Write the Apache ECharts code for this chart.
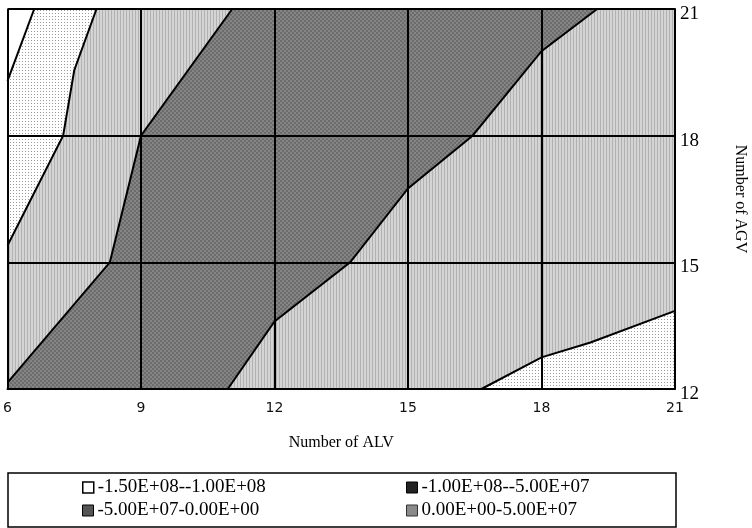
<!DOCTYPE html>
<html>
<head>
<meta charset="utf-8">
<script src="https://cdn.jsdelivr.net/npm/echarts@6/dist/echarts.min.js"></script>
<style>
  html, body { margin: 0; padding: 0; background: #fff; overflow: hidden; }
  #main { width: 752px; height: 528px; }
</style>
</head>
<body>
<div id="main"></div>
<script>
// axis ranges / ticks
var xMin = 6, xMax = 21, xStep = 3;
var yMin = 12, yMax = 21, yStep = 3;

// legend classes
var classNames = ['-1.50E+08--1.00E+08', '-1.00E+08--5.00E+07', '-5.00E+07-0.00E+00', '0.00E+00-5.00E+07'];

// contour lines, [ALV, AGV]
var lineA = [[6.6, 21], [6, 19.3]];
var lineB = [[8, 21], [7.5, 19.55], [7.25, 18], [6, 15.4]];
var lineC = [[11.05, 21], [9, 18], [8.3, 15], [6, 12.15]];
var lineD = [[19.25, 21], [18, 20], [16.45, 18], [15, 16.75], [13.7, 15], [12, 13.6], [10.95, 12]];
var lineE = [[16.65, 12], [18, 12.75], [19.1, 13.1], [21, 13.85]];

// filled areas built from the lines
var polyBack = [[xMin, yMin], [xMax, yMin], [xMax, yMax], [xMin, yMax]];
var polyDotTL = [[xMin, yMax]].concat(lineB);
var polyWhite = [[xMin, yMax]].concat(lineA);
var polyDark = lineC.concat([[xMin, yMin]], lineD.slice().reverse());
var polyDotBR = lineE.concat([[xMax, yMin]]);

/**
 * 生成填充纹理
 */
function makePattern(w, h, draw) {
	var c = document.createElement('canvas');
	c.width = w;
	c.height = h;
	draw(c.getContext('2d'));
	return { image: c, repeat: 'repeat' };
}

var patLight = makePattern(3, 1, function(ctx) {
	ctx.fillStyle = '#d4d4d4';
	ctx.fillRect(0, 0, 3, 1);
	ctx.fillStyle = '#b2b2b2';
	ctx.fillRect(0, 0, 1, 1);
});
var patDark = makePattern(4, 4, function(ctx) {
	ctx.fillStyle = '#858585';
	ctx.fillRect(0, 0, 4, 4);
	ctx.fillStyle = '#6c6c6c';
	ctx.fillRect(0, 0, 2, 2);
	ctx.fillRect(2, 2, 2, 2);
});
var patDot = makePattern(3, 3, function(ctx) {
	ctx.fillStyle = '#ffffff';
	ctx.fillRect(0, 0, 3, 3);
	ctx.fillStyle = '#9a9a9a';
	ctx.fillRect(1, 1, 1, 1);
});

function areaSeries(name, pts, fill, z) {
	return {
		type: 'custom',
		name: name,
		coordinateSystem: 'cartesian2d',
		silent: true,
		z: z,
		data: [pts[0]],
		renderItem: function(params, api) {
			return {
				type: 'polygon',
				shape: { points: pts.map(function(p) { return api.coord(p); }) },
				style: { fill: fill, stroke: null }
			};
		}
	};
}

function lineSeries(pts, z) {
	return {
		type: 'custom',
		coordinateSystem: 'cartesian2d',
		silent: true,
		z: z,
		data: [pts[0]],
		renderItem: function(params, api) {
			return {
				type: 'polyline',
				shape: { points: pts.map(function(p) { return api.coord(p); }) },
				style: { fill: null, stroke: '#000', lineWidth: 2 }
			};
		}
	};
}

var serifFont = '"Liberation Serif", "Times New Roman", serif';
var legendIcons = [
	{ color: '#ffffff', borderColor: '#000', borderWidth: 1.5 },
	{ color: '#222222', borderColor: '#000', borderWidth: 1 },
	{ color: '#555555', borderColor: '#000', borderWidth: 1 },
	{ color: '#8a8a8a', borderColor: '#333', borderWidth: 1 }
];
var legendPos = [[77, 473], [401, 473], [77, 496], [401, 496]];
var legends = classNames.map(function(n, i) {
	return {
		left: legendPos[i][0],
		top: legendPos[i][1],
		itemWidth: 11,
		itemHeight: 11,
		itemGap: 4,
		selectedMode: false,
		data: [{ name: n, icon: 'rect', itemStyle: legendIcons[i] }],
		textStyle: { fontFamily: serifFont, fontSize: 19, color: '#000', padding: [0, 0, 0, -1] }
	};
});

var option = {
	animation: false,
	backgroundColor: '#fff',
	grid: { left: 7.5, top: 9, width: 667.5, height: 380, containLabel: false, outerBoundsMode: 'none' },
	legend: legends,
	xAxis: {
		type: 'value',
		min: xMin,
		max: xMax,
		interval: xStep,
		z: 10,
		name: 'Number of ALV',
		nameLocation: 'middle',
		nameGap: 46,
		nameTextStyle: { fontFamily: serifFont, fontSize: 16, color: '#000' },
		axisLine: { lineStyle: { color: '#000', width: 2 } },
		axisTick: { show: false },
		axisLabel: { margin: 12, fontFamily: '"DejaVu Sans", sans-serif', fontSize: 14, color: '#111' },
		splitLine: { show: true, lineStyle: { color: '#000', width: 2 } }
	},
	yAxis: {
		type: 'value',
		position: 'right',
		min: yMin,
		max: yMax,
		interval: yStep,
		z: 10,
		name: 'Number of AGV',
		nameLocation: 'middle',
		nameRotate: -90,
		nameGap: 57,
		nameTextStyle: { fontFamily: serifFont, fontSize: 16, color: '#000' },
		axisLine: { lineStyle: { color: '#000', width: 2 } },
		axisTick: { show: false },
		axisLabel: { margin: 5, verticalAlign: 'top', lineHeight: 10, fontFamily: serifFont, fontSize: 19, color: '#000' },
		splitLine: { show: true, lineStyle: { color: '#000', width: 2 } }
	},
	graphic: [{
		type: 'rect',
		shape: { x: 8, y: 473, width: 668, height: 54 },
		style: { fill: null, stroke: '#000', lineWidth: 1.5 },
		z: 0
	}],
	series: [
		areaSeries(classNames[2], polyBack, patLight, 1),
		areaSeries(classNames[1], polyDotTL, patDot, 2),
		areaSeries(classNames[0], polyWhite, '#ffffff', 3),
		areaSeries(classNames[3], polyDark, patDark, 2),
		areaSeries(classNames[1], polyDotBR, patDot, 2),
		lineSeries(lineA, 5),
		lineSeries(lineB, 5),
		lineSeries(lineC, 5),
		lineSeries(lineD, 5),
		lineSeries(lineE, 5)
	]
};

var myChart = echarts.init(document.getElementById('main'), null, { width: 752, height: 528 });
myChart.setOption(option);
</script>
</body>
</html>
